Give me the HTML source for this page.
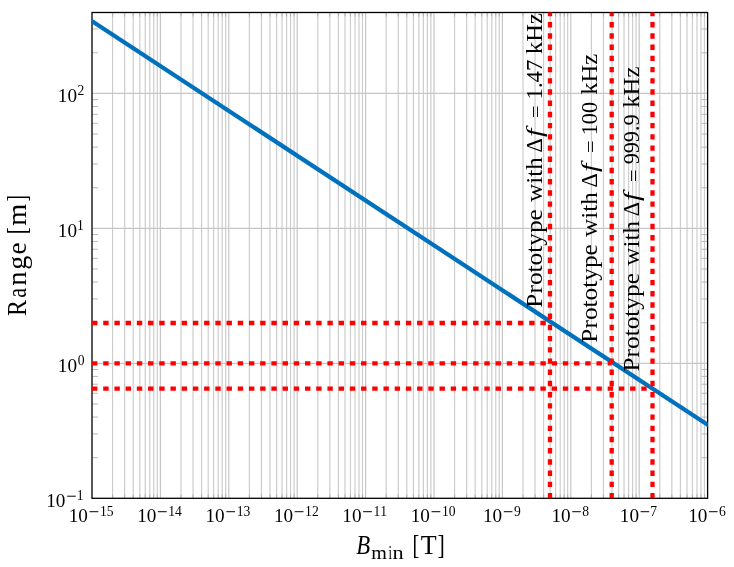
<!DOCTYPE html><html><head><meta charset="utf-8"><style>html,body{margin:0;padding:0;background:#fff;width:734px;height:567px;overflow:hidden}svg{display:block}text{font-family:"Liberation Serif",serif;fill:#000;font-kerning:none}</style></head><body>
<svg width="734" height="567" viewBox="0 0 734 567">
<path d="M112.59 12.5V498.3M124.64 12.5V498.3M133.18 12.5V498.3M139.81 12.5V498.3M145.23 12.5V498.3M149.80 12.5V498.3M153.77 12.5V498.3M157.27 12.5V498.3M180.99 12.5V498.3M193.04 12.5V498.3M201.58 12.5V498.3M208.21 12.5V498.3M213.63 12.5V498.3M218.20 12.5V498.3M222.17 12.5V498.3M225.67 12.5V498.3M249.39 12.5V498.3M261.44 12.5V498.3M269.98 12.5V498.3M276.61 12.5V498.3M282.03 12.5V498.3M286.60 12.5V498.3M290.57 12.5V498.3M294.07 12.5V498.3M317.79 12.5V498.3M329.84 12.5V498.3M338.38 12.5V498.3M345.01 12.5V498.3M350.43 12.5V498.3M355.00 12.5V498.3M358.97 12.5V498.3M362.47 12.5V498.3M386.19 12.5V498.3M398.24 12.5V498.3M406.78 12.5V498.3M413.41 12.5V498.3M418.83 12.5V498.3M423.40 12.5V498.3M427.37 12.5V498.3M430.87 12.5V498.3M454.59 12.5V498.3M466.64 12.5V498.3M475.18 12.5V498.3M481.81 12.5V498.3M487.23 12.5V498.3M491.80 12.5V498.3M495.77 12.5V498.3M499.27 12.5V498.3M522.99 12.5V498.3M535.04 12.5V498.3M543.58 12.5V498.3M550.21 12.5V498.3M555.63 12.5V498.3M560.20 12.5V498.3M564.17 12.5V498.3M567.67 12.5V498.3M591.39 12.5V498.3M603.44 12.5V498.3M611.98 12.5V498.3M618.61 12.5V498.3M624.03 12.5V498.3M628.60 12.5V498.3M632.57 12.5V498.3M636.07 12.5V498.3M659.79 12.5V498.3M671.84 12.5V498.3M680.38 12.5V498.3M687.01 12.5V498.3M692.43 12.5V498.3M697.00 12.5V498.3M700.97 12.5V498.3M704.47 12.5V498.3" stroke="#cdcdcd" stroke-width="1.2" fill="none"/>
<path d="M160.40 12.5V498.3M228.80 12.5V498.3M297.20 12.5V498.3M365.60 12.5V498.3M434.00 12.5V498.3M502.40 12.5V498.3M570.80 12.5V498.3M639.20 12.5V498.3" stroke="#c6c6c6" stroke-width="1.2" fill="none"/>
<path d="M92.0 363.33H707.6M92.0 228.37H707.6M92.0 93.40H707.6" stroke="#c6c6c6" stroke-width="1.2" fill="none"/>
<path d="M92.0 457.67h6M707.6 457.67h-6M92.0 433.90h6M707.6 433.90h-6M92.0 417.04h6M707.6 417.04h-6M92.0 403.96h6M707.6 403.96h-6M92.0 393.28h6M707.6 393.28h-6M92.0 384.24h6M707.6 384.24h-6M92.0 376.41h6M707.6 376.41h-6M92.0 369.51h6M707.6 369.51h-6M92.0 322.70h6M707.6 322.70h-6M92.0 298.94h6M707.6 298.94h-6M92.0 282.08h6M707.6 282.08h-6M92.0 269.00h6M707.6 269.00h-6M92.0 258.31h6M707.6 258.31h-6M92.0 249.27h6M707.6 249.27h-6M92.0 241.45h6M707.6 241.45h-6M92.0 234.54h6M707.6 234.54h-6M92.0 187.74h6M707.6 187.74h-6M92.0 163.97h6M707.6 163.97h-6M92.0 147.11h6M707.6 147.11h-6M92.0 134.03h6M707.6 134.03h-6M92.0 123.34h6M707.6 123.34h-6M92.0 114.31h6M707.6 114.31h-6M92.0 106.48h6M707.6 106.48h-6M92.0 99.58h6M707.6 99.58h-6M92.0 52.77h6M707.6 52.77h-6M92.0 29.00h6M707.6 29.00h-6M112.59 498.3v-4M112.59 12.5v4M124.64 498.3v-4M124.64 12.5v4M133.18 498.3v-4M133.18 12.5v4M139.81 498.3v-4M139.81 12.5v4M145.23 498.3v-4M145.23 12.5v4M149.80 498.3v-4M149.80 12.5v4M153.77 498.3v-4M153.77 12.5v4M157.27 498.3v-4M157.27 12.5v4M180.99 498.3v-4M180.99 12.5v4M193.04 498.3v-4M193.04 12.5v4M201.58 498.3v-4M201.58 12.5v4M208.21 498.3v-4M208.21 12.5v4M213.63 498.3v-4M213.63 12.5v4M218.20 498.3v-4M218.20 12.5v4M222.17 498.3v-4M222.17 12.5v4M225.67 498.3v-4M225.67 12.5v4M249.39 498.3v-4M249.39 12.5v4M261.44 498.3v-4M261.44 12.5v4M269.98 498.3v-4M269.98 12.5v4M276.61 498.3v-4M276.61 12.5v4M282.03 498.3v-4M282.03 12.5v4M286.60 498.3v-4M286.60 12.5v4M290.57 498.3v-4M290.57 12.5v4M294.07 498.3v-4M294.07 12.5v4M317.79 498.3v-4M317.79 12.5v4M329.84 498.3v-4M329.84 12.5v4M338.38 498.3v-4M338.38 12.5v4M345.01 498.3v-4M345.01 12.5v4M350.43 498.3v-4M350.43 12.5v4M355.00 498.3v-4M355.00 12.5v4M358.97 498.3v-4M358.97 12.5v4M362.47 498.3v-4M362.47 12.5v4M386.19 498.3v-4M386.19 12.5v4M398.24 498.3v-4M398.24 12.5v4M406.78 498.3v-4M406.78 12.5v4M413.41 498.3v-4M413.41 12.5v4M418.83 498.3v-4M418.83 12.5v4M423.40 498.3v-4M423.40 12.5v4M427.37 498.3v-4M427.37 12.5v4M430.87 498.3v-4M430.87 12.5v4M454.59 498.3v-4M454.59 12.5v4M466.64 498.3v-4M466.64 12.5v4M475.18 498.3v-4M475.18 12.5v4M481.81 498.3v-4M481.81 12.5v4M487.23 498.3v-4M487.23 12.5v4M491.80 498.3v-4M491.80 12.5v4M495.77 498.3v-4M495.77 12.5v4M499.27 498.3v-4M499.27 12.5v4M522.99 498.3v-4M522.99 12.5v4M535.04 498.3v-4M535.04 12.5v4M543.58 498.3v-4M543.58 12.5v4M550.21 498.3v-4M550.21 12.5v4M555.63 498.3v-4M555.63 12.5v4M560.20 498.3v-4M560.20 12.5v4M564.17 498.3v-4M564.17 12.5v4M567.67 498.3v-4M567.67 12.5v4M591.39 498.3v-4M591.39 12.5v4M603.44 498.3v-4M603.44 12.5v4M611.98 498.3v-4M611.98 12.5v4M618.61 498.3v-4M618.61 12.5v4M624.03 498.3v-4M624.03 12.5v4M628.60 498.3v-4M628.60 12.5v4M632.57 498.3v-4M632.57 12.5v4M636.07 498.3v-4M636.07 12.5v4M659.79 498.3v-4M659.79 12.5v4M671.84 498.3v-4M671.84 12.5v4M680.38 498.3v-4M680.38 12.5v4M687.01 498.3v-4M687.01 12.5v4M692.43 498.3v-4M692.43 12.5v4M697.00 498.3v-4M697.00 12.5v4M700.97 498.3v-4M700.97 12.5v4M704.47 498.3v-4M704.47 12.5v4" stroke="#a8a8a8" stroke-width="0.8" fill="none"/>
<rect x="92.0" y="12.5" width="615.60" height="485.80" stroke="#000" stroke-width="1.3" fill="none"/>
<defs><clipPath id="c"><rect x="91.4" y="12.5" width="616.40" height="485.80"/></clipPath></defs>
<path clip-path="url(#c)" d="M87.0 17.92L712.6 427.98" stroke="#0072bd" stroke-width="4.2" fill="none"/>
<path d="M550.0 498.3V12.5M92.0 323.0H550.0M611.7 498.3V12.5M92.0 363.4H611.7M652.5 498.3V12.5M92.0 388.6H652.5" stroke="#ff0000" stroke-width="4.3" stroke-dasharray="5.4 5.81" fill="none"/>
<g opacity="0.999">
<text x="68.73" y="521.80" font-size="19.2">10</text>
<rect x="89.50" y="511.20" width="8.80" height="1.0" fill="#000"/>
<text x="99.90" y="515.90" font-size="13.6">15</text>
<text x="137.13" y="521.80" font-size="19.2">10</text>
<rect x="157.90" y="511.20" width="8.80" height="1.0" fill="#000"/>
<text x="168.30" y="515.90" font-size="13.6">14</text>
<text x="205.53" y="521.80" font-size="19.2">10</text>
<rect x="226.30" y="511.20" width="8.80" height="1.0" fill="#000"/>
<text x="236.70" y="515.90" font-size="13.6">13</text>
<text x="273.93" y="521.80" font-size="19.2">10</text>
<rect x="294.70" y="511.20" width="8.80" height="1.0" fill="#000"/>
<text x="305.10" y="515.90" font-size="13.6">12</text>
<text x="342.33" y="521.80" font-size="19.2">10</text>
<rect x="363.10" y="511.20" width="8.80" height="1.0" fill="#000"/>
<text x="373.50" y="515.90" font-size="13.6">11</text>
<text x="410.73" y="521.80" font-size="19.2">10</text>
<rect x="431.50" y="511.20" width="8.80" height="1.0" fill="#000"/>
<text x="441.90" y="515.90" font-size="13.6">10</text>
<text x="483.03" y="521.80" font-size="19.2">10</text>
<rect x="503.80" y="511.20" width="8.60" height="1.0" fill="#000"/>
<text x="513.96" y="515.90" font-size="13.6">9</text>
<text x="551.43" y="521.80" font-size="19.2">10</text>
<rect x="572.20" y="511.20" width="8.60" height="1.0" fill="#000"/>
<text x="582.28" y="515.90" font-size="13.6">8</text>
<text x="619.83" y="521.80" font-size="19.2">10</text>
<rect x="640.60" y="511.20" width="8.60" height="1.0" fill="#000"/>
<text x="650.30" y="515.90" font-size="13.6">7</text>
<text x="688.23" y="521.80" font-size="19.2">10</text>
<rect x="709.00" y="511.20" width="8.60" height="1.0" fill="#000"/>
<text x="719.02" y="515.90" font-size="13.6">6</text>
<text x="46.13" y="506.50" font-size="19.2">10</text>
<rect x="67.20" y="495.70" width="8.60" height="1.0" fill="#000"/>
<text x="76.70" y="499.90" font-size="13.6">1</text>
<text x="57.83" y="371.53" font-size="19.2">10</text>
<text x="77.68" y="364.93" font-size="13.6">0</text>
<text x="57.83" y="236.57" font-size="19.2">10</text>
<text x="77.00" y="229.97" font-size="13.6">1</text>
<text x="57.83" y="101.60" font-size="19.2">10</text>
<text x="77.60" y="95.00" font-size="13.6">2</text>
<text transform="translate(26.00,316.09) rotate(-90) scale(0.8526,1.0)" font-size="28">R</text>
<text transform="translate(26.00,297.68) rotate(-90) scale(0.8407,1.0)" font-size="26.5">a</text>
<text transform="translate(26.00,285.86) rotate(-90) scale(1.0865,1.0)" font-size="26.5">n</text>
<text transform="translate(26.00,269.72) rotate(-90) scale(1.0683,1.0)" font-size="26.5">g</text>
<text transform="translate(26.00,254.57) rotate(-90) scale(1.0298,1.0)" font-size="26.5">e</text>
<text transform="translate(26.00,234.17) rotate(-90) scale(0.7539,1.0)" font-size="28">[</text>
<text transform="translate(26.00,225.69) rotate(-90) scale(1.0691,1.0)" font-size="26.5">m</text>
<text transform="translate(26.00,201.51) rotate(-90) scale(0.7058,1.0)" font-size="28">]</text>
<text transform="translate(356.29,554.00) scale(0.8134,1)" font-size="28" font-style="italic">B</text>
<text transform="translate(371.18,558.50) scale(1.0580,1)" font-size="19">m</text>
<text transform="translate(388.44,558.50) scale(0.6640,1)" font-size="19">i</text>
<text transform="translate(392.59,558.50) scale(1.1736,1)" font-size="19">n</text>
<text transform="translate(412.40,554.00) scale(0.7218,1)" font-size="28">[</text>
<text transform="translate(420.63,554.00) scale(0.9298,1)" font-size="28">T</text>
<text transform="translate(437.60,554.00) scale(0.7860,1)" font-size="28">]</text>
<text transform="translate(541.70,307.63) rotate(-90) scale(1.1259,1.0)" font-size="22.5">Prototype</text>
<text transform="translate(541.70,201.92) rotate(-90) scale(1.1214,1.0)" font-size="22.5">with</text>
<text transform="translate(541.70,152.45) rotate(-90) scale(0.9948,1.0)" font-size="22.5">Δ</text>
<text transform="translate(541.70,137.04) rotate(-90) scale(1.3386,1.0)" font-size="22.5" font-style="italic">f</text>
<text transform="translate(541.88,118.33) rotate(-90) scale(1.0124,0.8)" font-size="22.5">=</text>
<text transform="translate(541.70,99.39) rotate(-90) scale(1.0068,1.0)" font-size="22.5">1.47</text>
<text transform="translate(541.70,53.97) rotate(-90) scale(1.0870,1.0)" font-size="22.5">kHz</text>
<text transform="translate(596.60,342.63) rotate(-90) scale(1.1259,1.0)" font-size="22.5">Prototype</text>
<text transform="translate(596.60,236.92) rotate(-90) scale(1.1214,1.0)" font-size="22.5">with</text>
<text transform="translate(596.60,187.45) rotate(-90) scale(0.9948,1.0)" font-size="22.5">Δ</text>
<text transform="translate(596.60,172.04) rotate(-90) scale(1.3386,1.0)" font-size="22.5" font-style="italic">f</text>
<text transform="translate(596.78,153.33) rotate(-90) scale(1.0124,0.8)" font-size="22.5">=</text>
<text transform="translate(596.60,135.37) rotate(-90) scale(0.9963,1.0)" font-size="22.5">100</text>
<text transform="translate(596.60,94.67) rotate(-90) scale(1.0925,1.0)" font-size="22.5">kHz</text>
<text transform="translate(639.40,371.53) rotate(-90) scale(1.1259,1.0)" font-size="22.5">Prototype</text>
<text transform="translate(639.40,265.82) rotate(-90) scale(1.1214,1.0)" font-size="22.5">with</text>
<text transform="translate(639.40,216.35) rotate(-90) scale(0.9948,1.0)" font-size="22.5">Δ</text>
<text transform="translate(639.40,200.94) rotate(-90) scale(1.3386,1.0)" font-size="22.5" font-style="italic">f</text>
<text transform="translate(639.58,182.23) rotate(-90) scale(1.0124,0.8)" font-size="22.5">=</text>
<text transform="translate(639.40,164.31) rotate(-90) scale(0.9841,1.0)" font-size="22.5">999.9</text>
<text transform="translate(639.40,107.87) rotate(-90) scale(1.1035,1.0)" font-size="22.5">kHz</text>
</g>
</svg></body></html>
